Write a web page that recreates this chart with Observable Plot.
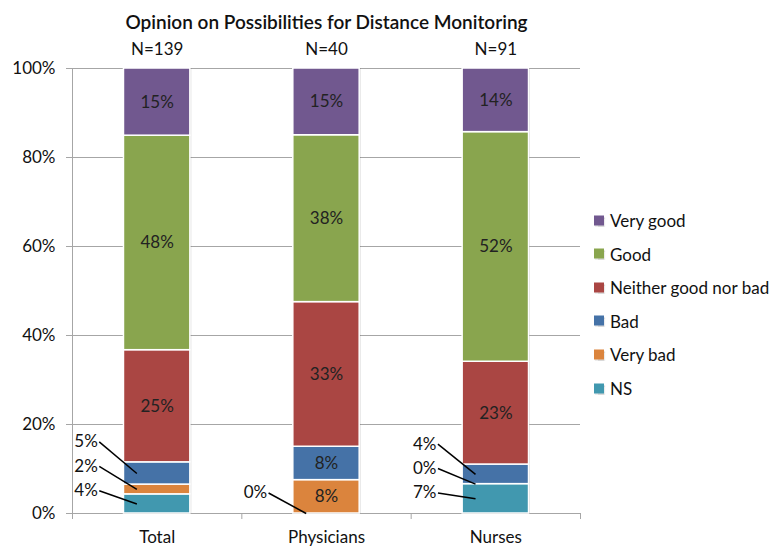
<!DOCTYPE html>
<html><head><meta charset="utf-8">
<script src="https://cdn.jsdelivr.net/npm/d3@7"></script>
<script src="https://cdn.jsdelivr.net/npm/@observablehq/plot@0.6"></script>
<style>
body{margin:0;background:#fff;}
#wrap{position:relative;width:772px;height:546px;font-family:Lato,"Open Sans",sans-serif;}
#legend{position:absolute;left:594px;top:0;}
.item{position:absolute;left:0;display:flex;align-items:center;white-space:nowrap;font-size:17px;color:#111;transform:translateY(-50%);}
.sw{width:10px;height:10px;margin-right:6px;box-shadow:1px 1px 1px rgba(0,0,0,0.15);}
</style></head><body><div id="wrap"></div>
<script>
const title = "Opinion on Possibilities for Distance Monitoring";
const categories = ["Total", "Physicians", "Nurses"];
const sampleSizes = [139, 40, 91];
// stack order, bottom to top
const responses = ["NS", "Very bad", "Bad", "Neither good nor bad", "Good", "Very good"];
const nsValues        = [4.3, 0.0, 6.6];
const veryBadValues   = [2.2, 7.5, 0.0];
const badValues       = [5.0, 7.5, 4.4];
const neitherValues   = [25.2, 32.5, 23.1];
const goodValues      = [48.2, 37.5, 51.6];
const veryGoodValues  = [15.1, 15.0, 14.3];
const yTicks = [0, 20, 40, 60, 80, 100];
const colors = ["#4198AF", "#DB843D", "#4572A7", "#AA4643", "#89A54E", "#71588F"];

const seriesValues = [nsValues, veryBadValues, badValues, neitherValues, goodValues, veryGoodValues];
const rows = [];
categories.forEach((c, i) => {
  let acc = 0;
  responses.forEach((r, k) => {
    const v = seriesValues[k][i];
    rows.push({cat: c, i, k, response: r, value: v, y1: acc, y2: acc + v});
    acc += v;
  });
});
const half = 0.196;
const pct = d => Math.round(d.value) + "%";
const inside = rows.filter(d => d.value >= 7);
const outside = rows.filter(d => d.value < 7);
const callouts = [];
categories.forEach((c, i) => {
  const segs = outside.filter(d => d.i === i).sort((a, b) => b.k - a.k);
  if (!segs.length) return;
  const top = segs[0].y2 + 4.6;
  segs.forEach((d, j) => callouts.push({...d, ly: top - j * 5.5, mid: (d.y1 + d.y2) / 2}));
});
const grid = "#a6a6a6";

const chart = Plot.plot({
  width: 772, height: 546,
  marginLeft: 72, marginRight: 192, marginTop: 68, marginBottom: 33,
  x: {type: "linear", domain: [-0.5, 2.5], axis: null, label: null},
  y: {domain: [0, 100], axis: null, label: null},
  color: {domain: responses, range: colors},
  style: {fontFamily: "Lato, 'Open Sans', sans-serif", fontSize: "17px", color: "#111", background: "white"},
  marks: [
    Plot.ruleY(yTicks.filter(t => t > 0), {stroke: grid}),
    Plot.axisY({ticks: yTicks, tickSize: 6, tickPadding: 11, tickFormat: d => d + "%", stroke: grid, fill: "#111", fontSize: 17, label: null}),
    Plot.axisX({ticks: [-0.5, 0.5, 1.5, 2.5], tickSize: 6, tickFormat: () => "", stroke: grid, label: null}),
    Plot.ruleX([-0.5], {stroke: grid}),
    Plot.ruleY([0], {stroke: grid}),
    Plot.rectY(categories, {x1: (d, i) => i - half, x2: (d, i) => i + half, y1: 0, y2: 100, dx: 1.5, fill: "#000", fillOpacity: 0.12}),
    Plot.rectY(rows.filter(d => d.value > 0), {x1: d => d.i - half, x2: d => d.i + half, y1: "y1", y2: "y2", fill: "response", stroke: "white", strokeWidth: 1.5}),
    Plot.text(inside, {x: d => d.i, y: d => (d.y1 + d.y2) / 2, text: pct, fill: "#222", fontSize: 17}),
    Plot.link(callouts, {x1: d => d.i - 0.342, y1: "ly", x2: d => d.i - 0.12, y2: "mid", stroke: "#000", strokeWidth: 1.5}),
    Plot.text(callouts, {x: d => d.i - 0.42, y: "ly", text: pct, fill: "#111", fontSize: 17}),
    Plot.text(categories, {x: (d, i) => i, y: 0, dy: 24, text: d => d, fill: "#111", fontSize: 17}),
    Plot.text(categories, {x: (d, i) => i, y: 100, dy: -19, text: (d, i) => "N=" + sampleSizes[i], fill: "#111", fontSize: 17}),
    Plot.text([title], {x: 1, y: 100, dy: -46, text: d => d, fill: "#111", fontSize: 19, fontWeight: 600})
  ]
});
const wrap = document.getElementById("wrap");
wrap.appendChild(chart);
const legend = document.createElement("div");
legend.id = "legend";
responses.slice().reverse().forEach((r, j) => {
  const item = document.createElement("div");
  item.className = "item";
  item.style.top = (220 + j * 33.6) + "px";
  const sw = document.createElement("span");
  sw.className = "sw";
  sw.style.background = colors[responses.indexOf(r)];
  item.appendChild(sw);
  item.appendChild(document.createTextNode(r));
  legend.appendChild(item);
});
wrap.appendChild(legend);
</script></body></html>
